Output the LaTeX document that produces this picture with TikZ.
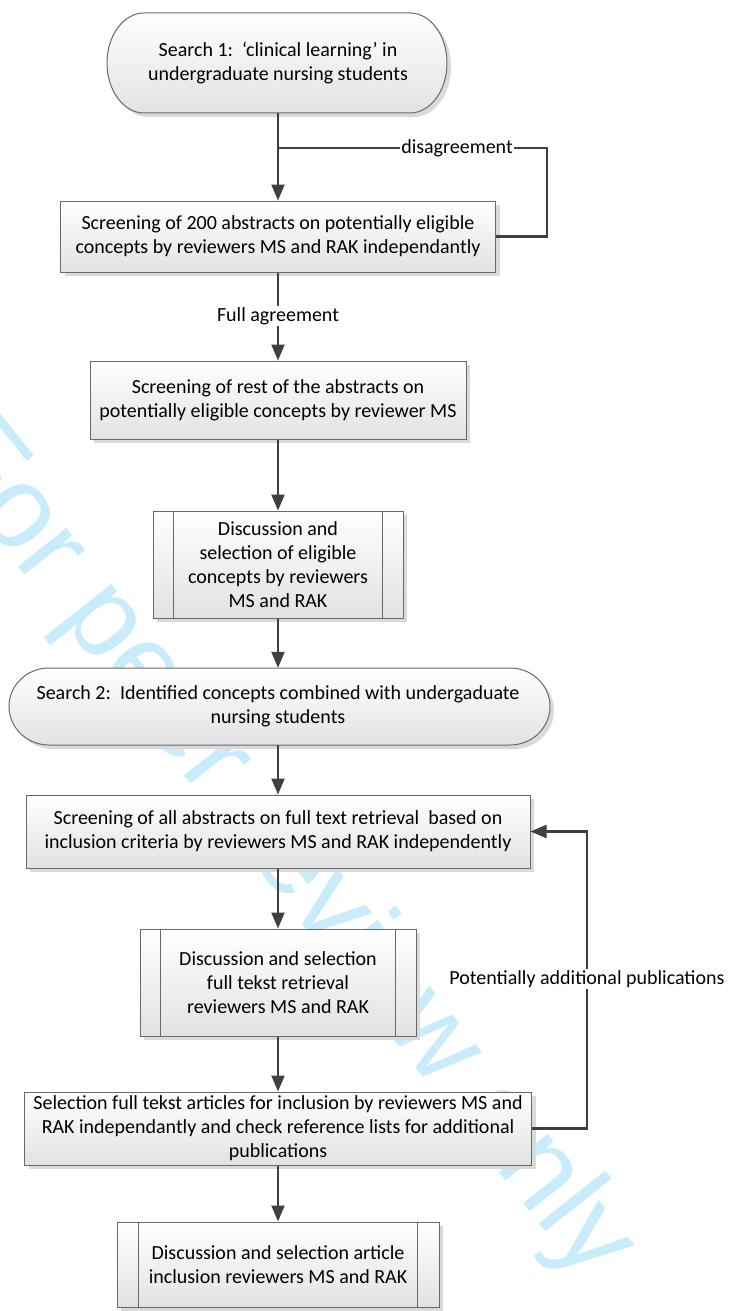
\documentclass[tikz,border=0pt]{standalone}
\usepackage{fontspec}
\setmainfont{Carlito}
\newfontfamily\wmfont{Liberation Sans}
\usetikzlibrary{arrows.meta,shadows}
\definecolor{wmcol}{RGB}{200,236,251}
\definecolor{conncol}{RGB}{64,64,64}
\definecolor{bordcol}{RGB}{105,105,105}
\definecolor{shadecol}{RGB}{226,226,226}
\definecolor{shadowcol}{RGB}{218,218,218}
\newcommand{\stadiumshape}[5]{%
  \pgfmathsetmacro{\sry}{(#4-#2)/2}%
  \fill[shadowcol] ({#1+#5+4},{#2+4}) -- ({#3-#5+4},{#2+4})
     arc[start angle=-90,end angle=90,x radius=#5,y radius=\sry]
     -- ({#1+#5+4},{#4+4})
     arc[start angle=90,end angle=270,x radius=#5,y radius=\sry] -- cycle;
  \shadedraw[top color=white,bottom color=shadecol,draw=bordcol,line width=1pt]
     ({#1+#5},#2) -- ({#3-#5},#2)
     arc[start angle=-90,end angle=90,x radius=#5,y radius=\sry]
     -- ({#1+#5},#4)
     arc[start angle=90,end angle=270,x radius=#5,y radius=\sry] -- cycle;
}
\begin{document}
\begin{tikzpicture}[x=1pt,y=-1pt,
  txt/.style={font=\fontsize{20}{24}\selectfont},
  box/.style={txt, draw=bordcol, line width=1pt, top color=white, bottom color=shadecol,
    inner sep=0pt, align=center,
    general shadow={fill=shadowcol, shadow xshift=4pt, shadow yshift=-4pt}},
  term/.style={txt, inner sep=0pt, align=center},
  conn/.style={draw=conncol, line width=2.2pt},
  arr/.style={conn, -{Triangle[length=16pt,width=13pt]}},
  lab/.style={txt, fill=white, inner sep=1.5pt},
  bar/.style={draw=bordcol, line width=1pt}
]
\useasboundingbox (0,0) rectangle (728,1311);
\fill[white] (0,0) rectangle (728,1311);

% watermark
\node[rotate=-51.6, text=wmcol, font=\fontsize{117}{117}\selectfont\wmfont, inner sep=0pt] (wm) at (282,850) {For peer review only};

% terminators (shapes)
\stadiumshape{107}{13}{447}{113}{37}
\stadiumshape{9}{668}{550}{745}{40}

\node[term, minimum width=340pt, minimum height=100pt] (t1) at (278,63)
  {Search 1:\ \ ‘clinical learning’ in\\undergraduate nursing students};

\node[box, minimum width=435pt, minimum height=71pt] (b2) at (278,236.5)
  {Screening of 200 abstracts on potentially eligible\\concepts by reviewers MS and RAK independantly};

\node[box, minimum width=376pt, minimum height=78pt] (b3) at (278,400)
  {Screening of rest of the abstracts on\\potentially eligible concepts by reviewer MS};

\node[box, minimum width=250pt, minimum height=107pt] (b4) at (278,564.5)
  {Discussion and\\selection of eligible\\concepts by reviewers\\MS and RAK};
\draw[bar] ([xshift=21pt]b4.north west) -- ([xshift=21pt]b4.south west);
\draw[bar] ([xshift=-21pt]b4.north east) -- ([xshift=-21pt]b4.south east);

\node[term, minimum width=541pt, minimum height=77pt] (t2) at (278,706.5)
  {Search 2:\ \ Identified concepts combined with undergaduate\\nursing students};

\node[box, minimum width=504pt, minimum height=73pt] (b5) at (278,831.5)
  {Screening of all abstracts on full text retrieval\ \ based on\\inclusion criteria by reviewers MS and RAK independently};

\node[box, minimum width=276pt, minimum height=107pt] (b6) at (278,982.5)
  {Discussion and selection\\full tekst retrieval\\reviewers MS and RAK};
\draw[bar] ([xshift=21pt]b6.north west) -- ([xshift=21pt]b6.south west);
\draw[bar] ([xshift=-21pt]b6.north east) -- ([xshift=-21pt]b6.south east);

\node[box, minimum width=507pt, minimum height=73pt] (b7) at (278,1128.5)
  {Selection full tekst articles for inclusion by reviewers MS and\\RAK independantly and check reference lists for additional\\publications};

\node[box, minimum width=322pt, minimum height=85pt] (b8) at (278,1264.5)
  {Discussion and selection article\\inclusion reviewers MS and RAK};
\draw[bar] ([xshift=22pt]b8.north west) -- ([xshift=22pt]b8.south west);
\draw[bar] ([xshift=-22pt]b8.north east) -- ([xshift=-22pt]b8.south east);

% connectors
\coordinate (j1) at (278,148);
\coordinate (c1) at (547,148);
\coordinate (c2) at (587,979);

\draw[arr] (t1) -- (b2);
\draw[conn] (b2.east) -| (c1) -- (j1);
\node[lab] (l1) at (457,148) {disagreement};

\draw[arr] (b2) -- (b3);
\node[lab] (l2) at (278,316) {Full agreement};

\draw[arr] (b3) -- (b4);
\draw[arr] (b4) -- (t2);
\draw[arr] (t2) -- (b5);
\draw[arr] (b5) -- (b6);
\draw[arr] (b6) -- (b7);
\draw[arr] (b7) -- (b8);

\draw[arr] (b7.east) -| (c2) |- (b5.east);
\node[lab] (l3) at (c2) {Potentially additional publications};
\end{tikzpicture}
\end{document}
